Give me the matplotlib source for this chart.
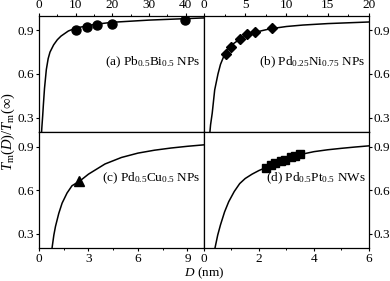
import matplotlib
matplotlib.use("Agg")
import matplotlib.pyplot as plt
from matplotlib.ticker import MultipleLocator

plt.rcParams['font.family'] = ['Liberation Serif', 'DejaVu Serif']
plt.rcParams['mathtext.fontset'] = 'custom'
plt.rcParams['mathtext.rm'] = 'Liberation Serif'
plt.rcParams['mathtext.it'] = 'Liberation Serif:italic'
plt.rcParams['font.size'] = 9.5

## (a) Pb0.5Bi0.5 NPs ##
a_curve_d = [0.7, 0.8, 1.0, 1.2, 1.5, 2.0, 2.5, 3.0, 4.0, 5.0, 6.0, 8.0, 10, 15, 20, 30, 45]
a_curve_t = [0.2, 0.24, 0.31, 0.39, 0.5, 0.63, 0.705, 0.75, 0.8, 0.835, 0.86, 0.895, 0.915, 0.94, 0.955, 0.97, 0.985]
a_pts_d = [10.0, 13.1, 15.9, 19.9, 39.7]
a_pts_t = [0.905, 0.923, 0.934, 0.946, 0.969]

## (b) Pd0.25Ni0.75 NPs ##
b_curve_d = [0.72, 0.8, 1.0, 1.3, 1.7, 2.0, 2.5, 3.0, 3.5, 4.0, 5.0, 6.0, 7.0, 8.0, 10, 12, 15, 20]
b_curve_t = [0.2, 0.25, 0.33, 0.49, 0.6, 0.665, 0.735, 0.775, 0.805, 0.825, 0.86, 0.882, 0.897, 0.91, 0.926, 0.936, 0.946, 0.957]
b_pts_d = [2.68, 3.29, 4.31, 5.2, 6.22, 8.26]
b_pts_t = [0.734, 0.785, 0.838, 0.872, 0.888, 0.916]

## (c) Pd0.5Cu0.5 NPs ##
c_curve_d = [0.79, 0.9, 1.0, 1.2, 1.4, 1.7, 2.0, 2.5, 3.0, 4.0, 5.0, 6.0, 7.0, 8.0, 9.0, 10.0]
c_curve_t = [0.2, 0.29, 0.35, 0.44, 0.51, 0.58, 0.63, 0.665, 0.71, 0.78, 0.825, 0.855, 0.875, 0.89, 0.902, 0.912]
c_pts_d = [2.43]
c_pts_t = [0.665]

## (d) Pd0.5Pt0.5 NWs ##
d_curve_d = [0.4, 0.5, 0.6, 0.75, 0.9, 1.1, 1.3, 1.5, 1.75, 2.0, 2.25, 2.5, 3.0, 3.5, 4.0, 4.5, 5.0, 5.5, 6.0]
d_curve_t = [0.2, 0.29, 0.36, 0.45, 0.52, 0.59, 0.645, 0.68, 0.71, 0.735, 0.755, 0.775, 0.81, 0.845, 0.865, 0.878, 0.888, 0.897, 0.905]
d_pts_d = [2.25, 2.45, 2.6, 2.8, 2.95, 3.15, 3.3, 3.5]
d_pts_t = [0.755, 0.77, 0.785, 0.80, 0.81, 0.825, 0.835, 0.85]

labels = [r"(a) Pb$_{0.5}$Bi$_{0.5}$ NPs", r"(b) Pd$_{0.25}$Ni$_{0.75}$ NPs",
          r"(c) Pd$_{0.5}$Cu$_{0.5}$ NPs", r"(d) Pd$_{0.5}$Pt$_{0.5}$ NWs"]
y_ticks = [0.3, 0.6, 0.9]


def setup_axis(ax, top, left, xmax, xmajor, xminor):
  ax.set_xlim(0, xmax)
  ax.set_ylim(0.2, 1.0)
  ax.xaxis.set_major_locator(MultipleLocator(xmajor))
  ax.xaxis.set_minor_locator(MultipleLocator(xminor))
  ax.set_yticks(y_ticks)
  for s in ax.spines.values():
    s.set_linewidth(0.9)
  ax.tick_params(which='major', direction='out', length=2.5, width=0.8, pad=1)
  ax.tick_params(which='minor', direction='out', length=1.5, width=0.7)
  if top:
    ax.tick_params(axis='x', which='both', top=True, labeltop=True, bottom=False, labelbottom=False)
  else:
    ax.tick_params(axis='x', which='both', top=False, labeltop=False, bottom=True, labelbottom=True)
  if left:
    ax.tick_params(axis='y', left=True, labelleft=True, right=False, labelright=False)
  else:
    ax.tick_params(axis='y', left=False, labelleft=False, right=True, labelright=True)


def main():
  fig = plt.figure(figsize=(3.9, 2.81), dpi=100)
  x0, xm, x1 = 0.1, 0.523, 0.946
  y0, ym, y1 = 0.117, 0.53, 0.944

  ax_a = fig.add_axes([x0, ym, xm - x0, y1 - ym])
  ax_b = fig.add_axes([xm, ym, x1 - xm, y1 - ym])
  ax_c = fig.add_axes([x0, y0, xm - x0, ym - y0])
  ax_d = fig.add_axes([xm, y0, x1 - xm, ym - y0])

  ax_a.plot(a_curve_d, a_curve_t, color='black', lw=1.1)
  ax_a.plot(a_pts_d, a_pts_t, 'o', color='black', ms=6.5)
  setup_axis(ax_a, True, True, 45, 10, 5)

  ax_b.plot(b_curve_d, b_curve_t, color='black', lw=1.1)
  ax_b.plot(b_pts_d, b_pts_t, 'D', color='black', ms=5)
  setup_axis(ax_b, True, False, 20, 5, 2.5)

  ax_c.plot(c_curve_d, c_curve_t, color='black', lw=1.1)
  ax_c.plot(c_pts_d, c_pts_t, '^', color='black', ms=7)
  setup_axis(ax_c, False, True, 10, 3, 1.5)

  ax_d.plot(d_curve_d, d_curve_t, color='black', lw=1.1)
  ax_d.plot(d_pts_d, d_pts_t, 's', color='black', ms=5.5)
  setup_axis(ax_d, False, False, 6, 2, 1)

  for ax, lab in zip([ax_a, ax_b, ax_c, ax_d], labels):
    ax.text(0.98, 0.6, lab, transform=ax.transAxes, ha='right', va='center', fontsize=9.5)

  fig.text(0.021, 0.53, r"$T_\mathrm{m}(D)/T_\mathrm{m}(\infty)$", rotation=90,
           ha='center', va='center', fontsize=10.5)
  fig.text(0.523, 0.028, r"$D$ (nm)", ha='center', va='center', fontsize=9.5)

  fig.savefig("out.png", dpi=100)


if __name__ == "__main__":
  main()
